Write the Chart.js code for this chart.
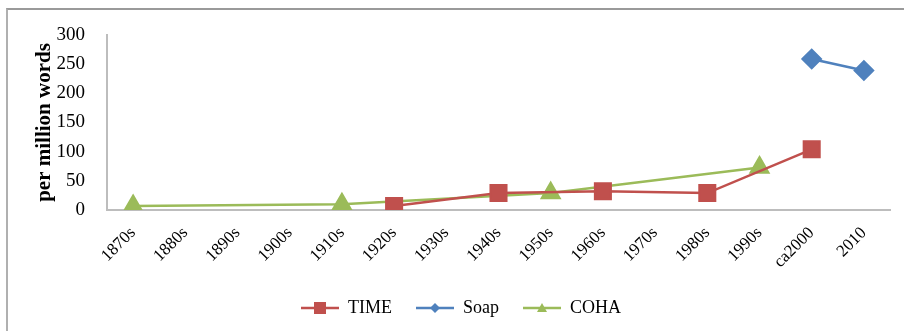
<!DOCTYPE html>
<html>
<head>
<meta charset="utf-8">
<script src="https://cdn.jsdelivr.net/npm/chart.js@4.4.0/dist/chart.umd.min.js"></script>
<style>
    body { margin: 0; background: #fff; }
    #frame { position: absolute; left: 6px; top: 8px; width: 898px; height: 323px; border-top: 2px solid #9a9a9a; border-left: 2px solid #b0b0b0; }
    #wrap { position: absolute; left: 0; top: 0; width: 904px; height: 331px; }
</style>
</head>
<body>
<div id="frame"></div>
<div id="wrap"><canvas id="chartPalavras" width="904" height="331"></canvas></div>
<script>
var decadas = ["1870s", "1880s", "1890s", "1900s", "1910s", "1920s", "1930s", "1940s", "1950s", "1960s", "1970s", "1980s", "1990s", "ca2000", "2010"];
var valoresTime = [null, null, null, null, null, 7, null, 29, null, 32, null, 29, null, 104, null];
var valoresSoap = [null, null, null, null, null, null, null, null, null, null, null, null, null, 259, 239];
var valoresCoha = [7, null, null, null, 10, null, null, null, 29, null, null, null, 73, null, null];
var ticksY = [0, 50, 100, 150, 200, 250, 300];

var fonteSerif = "'Liberation Serif', 'Times New Roman', serif";

// desenha o icone da legenda: linha com o marcador no meio
function iconeLegenda(cor, estilo) {
    var c = document.createElement("canvas");
    c.width = 38;
    c.height = 16;
    var g = c.getContext("2d");
    g.strokeStyle = cor;
    g.lineWidth = 2.5;
    g.beginPath();
    g.moveTo(0, 8);
    g.lineTo(38, 8);
    g.stroke();
    g.fillStyle = cor;
    g.beginPath();
    if (estilo == "rect") {
        g.rect(13, 2, 12, 12);
    } else if (estilo == "rectRot") {
        g.moveTo(19, 3); g.lineTo(24, 8); g.lineTo(19, 13); g.lineTo(14, 8);
    } else {
        g.moveTo(19, 3); g.lineTo(24, 12); g.lineTo(14, 12);
    }
    g.closePath();
    g.fill();
    return c;
}

var series = [
    { label: "TIME", data: valoresTime, cor: "#C0504D", estilo: "rect", raio: 11 },
    { label: "Soap", data: valoresSoap, cor: "#4F81BD", estilo: "rectRot", raio: 9 },
    { label: "COHA", data: valoresCoha, cor: "#9BBB59", estilo: "triangle", raio: 10 }
];

var datasets = series.map(function (s) {
    return {
        label: s.label,
        data: s.data,
        borderColor: s.cor,
        backgroundColor: s.cor,
        pointBackgroundColor: s.cor,
        pointBorderColor: s.cor,
        pointStyle: s.estilo,
        pointRadius: s.raio,
        pointHoverRadius: s.raio,
        borderWidth: 2.5,
        spanGaps: true,
        tension: 0,
        icone: iconeLegenda(s.cor, s.estilo)
    };
});

var ctx = document.getElementById("chartPalavras");

new Chart(ctx, {
    type: "line",
    data: { labels: decadas, datasets: datasets },
    options: {
        responsive: false,
        animation: false,
        layout: { padding: { top: 35, right: 14, left: 32, bottom: 4 } },
        plugins: {
            tooltip: { enabled: false },
            legend: {
                display: true,
                position: "bottom",
                labels: {
                    usePointStyle: true,
                    pointStyleWidth: 38,
                    padding: 24,
                    color: "#000",
                    font: { family: fonteSerif, size: 18 },
                    generateLabels: function (chart) {
                        return chart.data.datasets.map(function (d, i) {
                            return {
                                text: d.label,
                                pointStyle: d.icone,
                                fillStyle: d.borderColor,
                                strokeStyle: d.borderColor,
                                lineWidth: 0,
                                datasetIndex: i,
                                hidden: false,
                                fontColor: "#000"
                            };
                        });
                    }
                }
            }
        },
        scales: {
            x: {
                offset: true,
                grid: { display: false },
                border: { display: true, color: "#bdbdbd", width: 2 },
                ticks: {
                    color: "#000",
                    maxRotation: 45,
                    minRotation: 45,
                    autoSkip: false,
                    padding: 5,
                    font: { family: fonteSerif, size: 17 }
                },
                afterFit: function (scale) { scale.height = 65; }
            },
            y: {
                min: 0,
                max: 300,
                grid: { display: false },
                border: { display: true, color: "#bdbdbd", width: 2 },
                afterBuildTicks: function (scale) {
                    scale.ticks = ticksY.map(function (v) { return { value: v }; });
                },
                ticks: {
                    color: "#000",
                    padding: 14,
                    font: { family: fonteSerif, size: 19 }
                },
                title: {
                    display: true,
                    text: "per million words",
                    color: "#000",
                    padding: { top: 0, bottom: 2 },
                    font: { family: fonteSerif, size: 21, weight: "bold" }
                },
                afterFit: function (scale) { scale.width = 75; }
            }
        }
    }
});
</script>
</body>
</html>
